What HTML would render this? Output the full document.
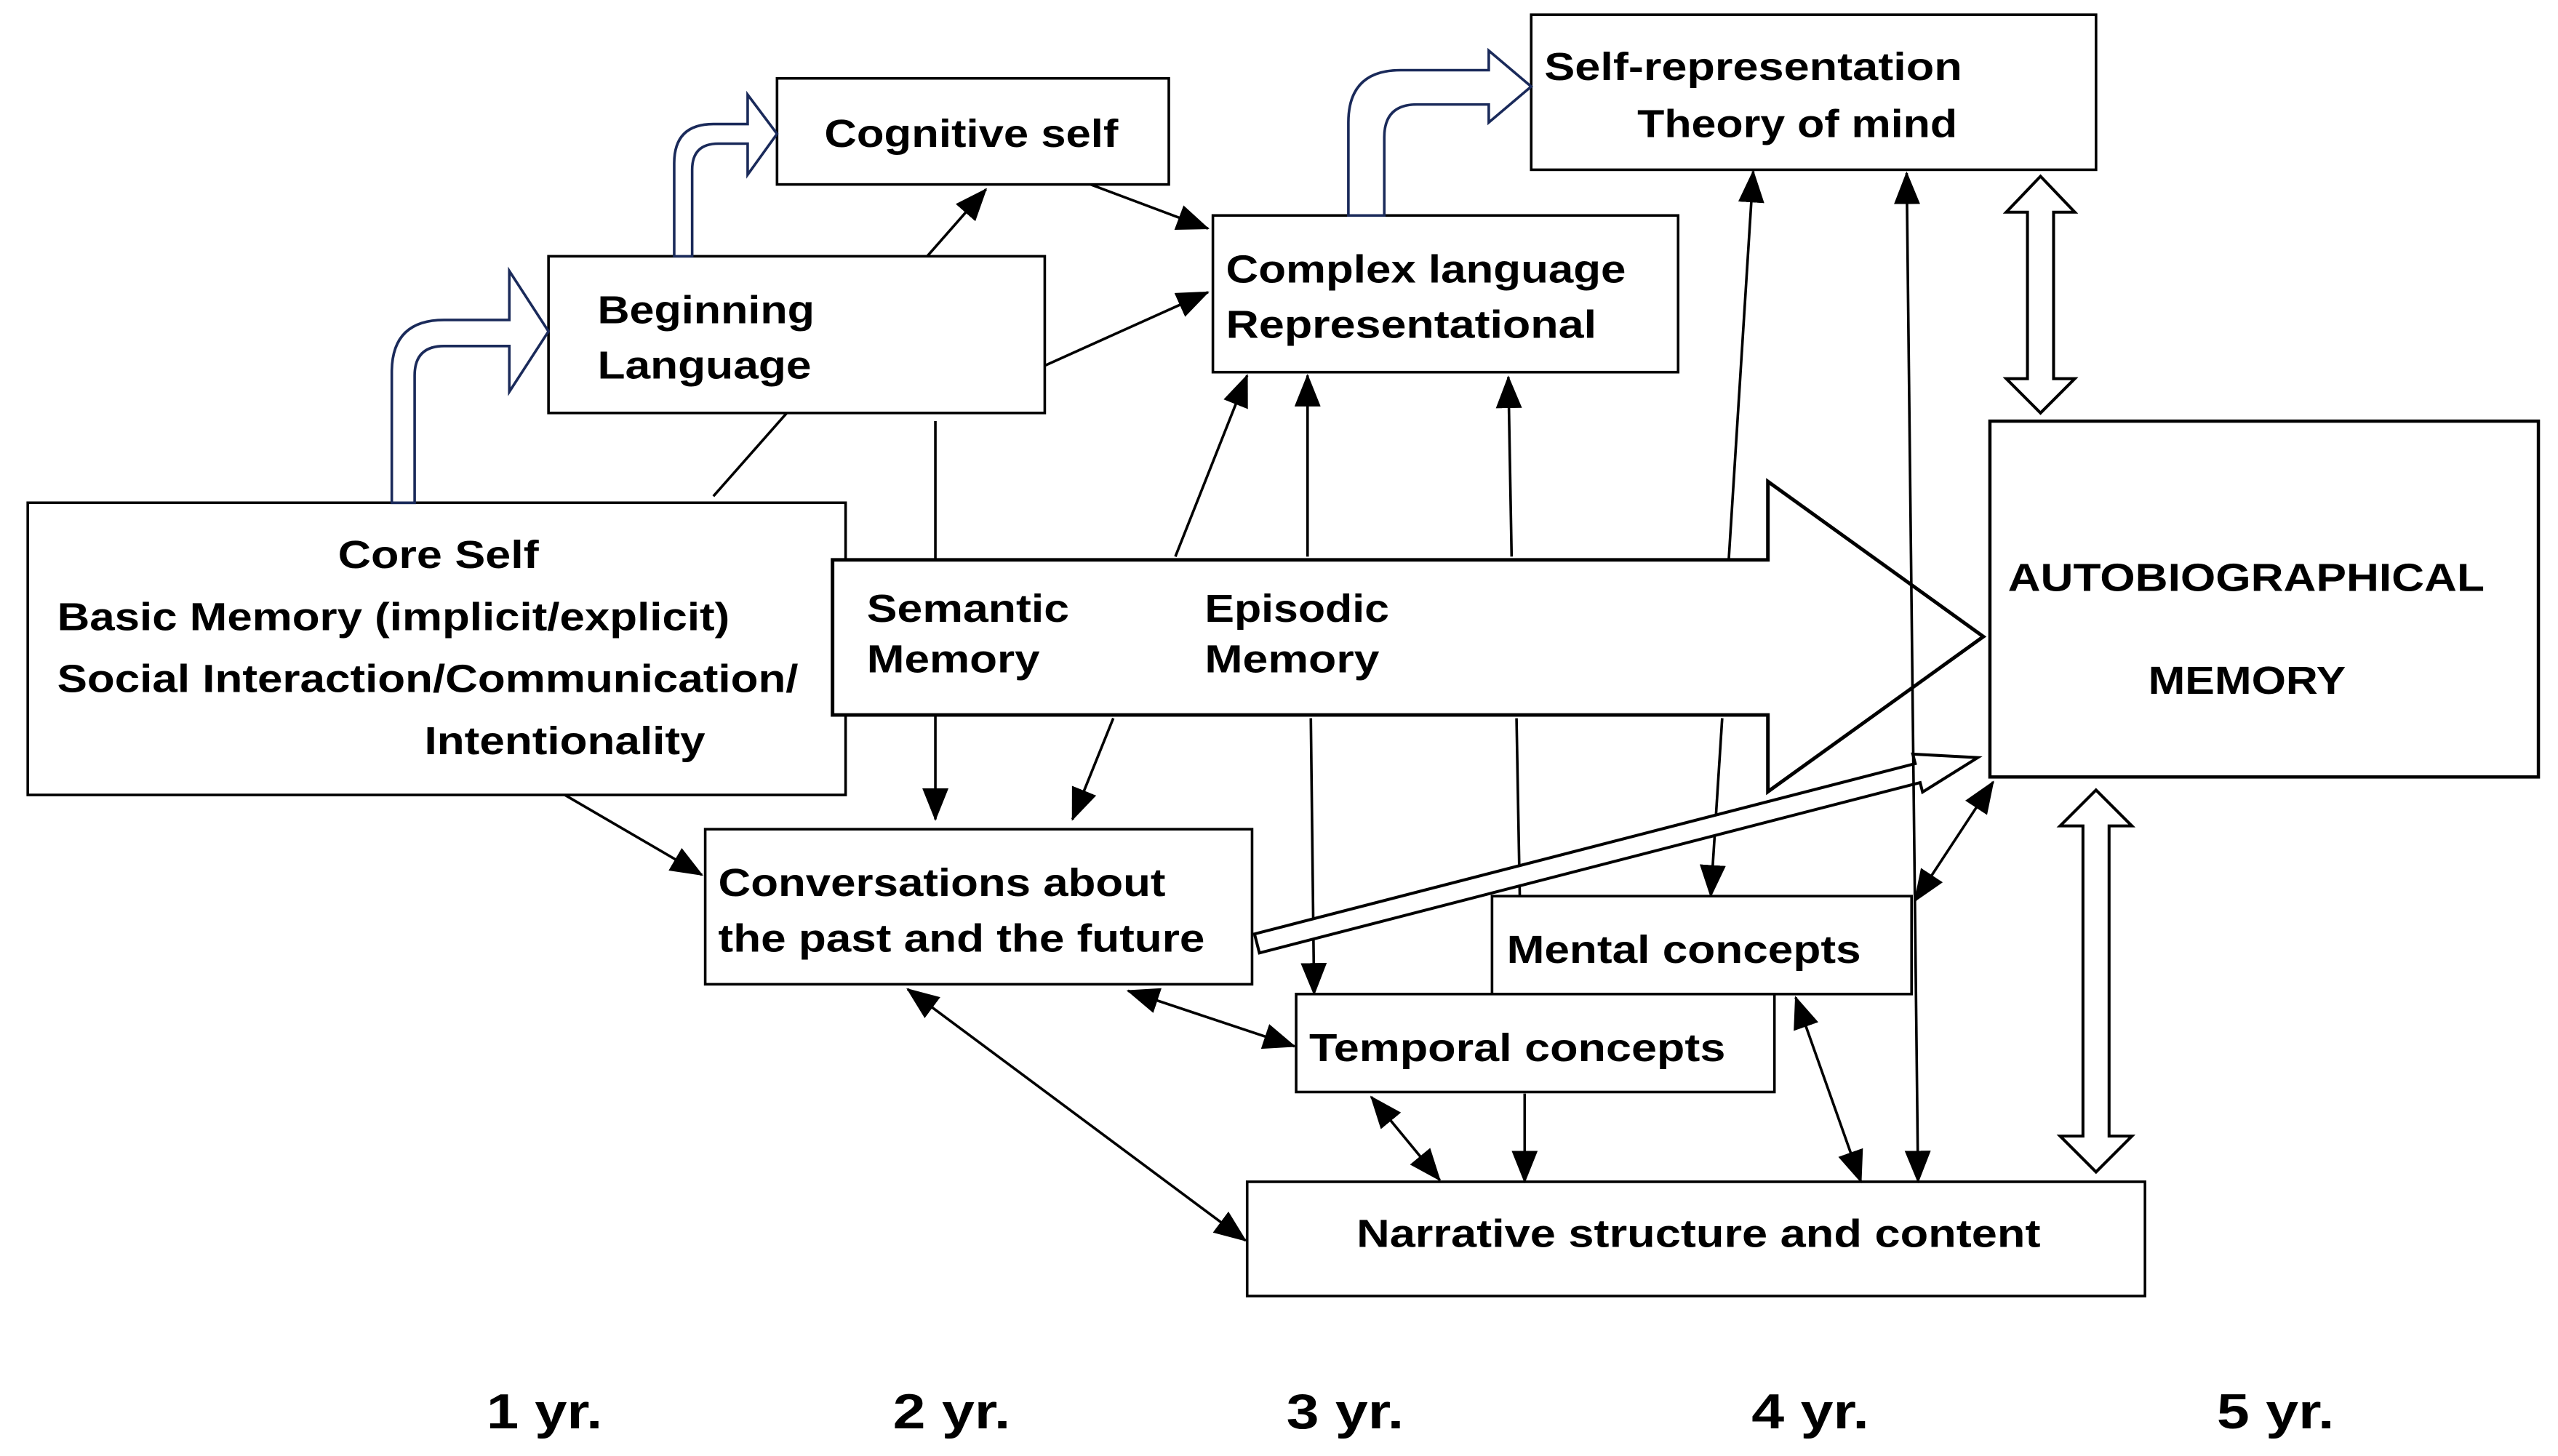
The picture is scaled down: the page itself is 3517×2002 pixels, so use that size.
<!DOCTYPE html>
<html><head><meta charset="utf-8">
<style>
html,body{margin:0;padding:0;background:#fff;}
svg{display:block;}
text{font-family:"Liberation Sans",Arial,sans-serif;font-weight:bold;fill:#000;}
</style></head>
<body>
<svg width="3517" height="2002" viewBox="0 0 1567 892" xmlns="http://www.w3.org/2000/svg">
<defs>
<marker id="ah" markerWidth="20" markerHeight="16" refX="19" refY="8" orient="auto-start-reverse" markerUnits="userSpaceOnUse" viewBox="0 0 20 16">
<path d="M0,0 L20,8 L0,16 z" fill="#000"/>
</marker>
</defs>
<rect width="1567" height="892" fill="#fff"/>
<g stroke="#000" stroke-width="1.6" fill="none">
<line x1="568" y1="157" x2="604" y2="116" marker-end="url(#ah)"/>
<line x1="668" y1="113" x2="740" y2="140" marker-end="url(#ah)"/>
<line x1="640" y1="224" x2="740" y2="179" marker-end="url(#ah)"/>
<line x1="437" y1="304" x2="482" y2="253"/>
<line x1="573" y1="258" x2="573" y2="345"/>
<line x1="720" y1="341" x2="764" y2="230" marker-end="url(#ah)"/>
<line x1="801" y1="341" x2="801" y2="230" marker-end="url(#ah)"/>
<line x1="926" y1="341" x2="924" y2="231" marker-end="url(#ah)"/>
<line x1="1059" y1="343" x2="1074" y2="105" marker-end="url(#ah)"/>
<line x1="573" y1="438" x2="573" y2="502" marker-end="url(#ah)"/>
<line x1="682" y1="440" x2="657" y2="502" marker-end="url(#ah)"/>
<line x1="803" y1="440" x2="805" y2="609" marker-end="url(#ah)"/>
<line x1="929" y1="440" x2="931" y2="549"/>
<line x1="1055" y1="440" x2="1048" y2="549" marker-end="url(#ah)"/>
</g>
<g stroke="#000" stroke-width="1.6" fill="#fff">
<rect x="476" y="48" width="240" height="65"/>
<rect x="336" y="157" width="304" height="96"/>
<rect x="938" y="9" width="346" height="95"/>
<rect x="743" y="132" width="285" height="96"/>
<rect x="17" y="308" width="501" height="179"/>
<rect x="1219" y="258" width="336" height="218" stroke-width="2"/>
<rect x="432" y="508" width="335" height="95"/>
<rect x="914" y="549" width="257" height="60"/>
<rect x="794" y="609" width="293" height="60"/>
<rect x="764" y="724" width="550" height="70"/>
</g>
<path d="M510,343 L1083,343 L1083,295 L1215,390 L1083,485 L1083,438 L510,438 Z" fill="#fff" stroke="#000" stroke-width="2.2"/>
<g fill="#fff" stroke="#1a2a5a" stroke-width="1.6">
<path d="M240,308 L240,228 Q240,196 272,196 L312,196 L312,166 L336,203 L312,240 L312,212 L272,212 Q254,212 254,230 L254,308 Z"/>
<path d="M413,157 L413,100 Q413,76 437,76 L458,76 L458,58 L476,82 L458,107 L458,88 L440,88 Q424,88 424,104 L424,157 Z"/>
<path d="M826,132 L826,75 Q826,43 858,43 L912,43 L912,31 L938,53 L912,75 L912,64 L868,64 Q848,64 848,84 L848,132 Z"/>
</g>
<g fill="#fff" stroke="#000" stroke-width="1.8">
<path d="M1250,108 L1271,130 L1258,130 L1258,232 L1271,232 L1250,253 L1229,232 L1242,232 L1242,130 L1229,130 Z"/>
<path d="M1284,484 L1306,506 L1292,506 L1292,696 L1306,696 L1284,718 L1262,696 L1276,696 L1276,506 L1262,506 Z"/>
<g transform="translate(770,578) rotate(-14.46)">
<path d="M0,-6 L418,-6 L418,-12 L456,0 L418,12 L418,6 L0,6 Z"/>
</g>
</g>
<g stroke="#000" stroke-width="1.6" fill="none">
<line x1="1168" y1="106" x2="1175" y2="724" marker-start="url(#ah)" marker-end="url(#ah)"/>
<line x1="346" y1="487" x2="430" y2="536" marker-end="url(#ah)"/>
<line x1="1173" y1="552" x2="1221" y2="479" marker-start="url(#ah)" marker-end="url(#ah)"/>
<line x1="691" y1="607" x2="793" y2="641" marker-start="url(#ah)" marker-end="url(#ah)"/>
<line x1="556" y1="606" x2="763" y2="760" marker-start="url(#ah)" marker-end="url(#ah)"/>
<line x1="840" y1="672" x2="882" y2="723" marker-start="url(#ah)" marker-end="url(#ah)"/>
<line x1="934" y1="670" x2="934" y2="724" marker-end="url(#ah)"/>
<line x1="1100" y1="611" x2="1140" y2="724" marker-start="url(#ah)" marker-end="url(#ah)"/>
</g>
<g font-size="24">
<text x="505" y="90" textLength="180" lengthAdjust="spacingAndGlyphs">Cognitive self</text>
<text x="366" y="198" textLength="133" lengthAdjust="spacingAndGlyphs">Beginning</text>
<text x="366" y="232" textLength="131" lengthAdjust="spacingAndGlyphs">Language</text>
<text x="946" y="49" textLength="256" lengthAdjust="spacingAndGlyphs">Self-representation</text>
<text x="1003" y="84" textLength="196" lengthAdjust="spacingAndGlyphs">Theory of mind</text>
<text x="751" y="173" textLength="245" lengthAdjust="spacingAndGlyphs">Complex language</text>
<text x="751" y="207" textLength="227" lengthAdjust="spacingAndGlyphs">Representational</text>
<text x="207" y="348" textLength="123" lengthAdjust="spacingAndGlyphs">Core Self</text>
<text x="35" y="386" textLength="412" lengthAdjust="spacingAndGlyphs">Basic Memory (implicit/explicit)</text>
<text x="35" y="424" textLength="454" lengthAdjust="spacingAndGlyphs">Social Interaction/Communication/</text>
<text x="260" y="462" textLength="172" lengthAdjust="spacingAndGlyphs">Intentionality</text>
<text x="531" y="381" textLength="124" lengthAdjust="spacingAndGlyphs">Semantic</text>
<text x="531" y="412" textLength="106" lengthAdjust="spacingAndGlyphs">Memory</text>
<text x="738" y="381" textLength="113" lengthAdjust="spacingAndGlyphs">Episodic</text>
<text x="738" y="412" textLength="107" lengthAdjust="spacingAndGlyphs">Memory</text>
<text x="1230" y="362" textLength="292" lengthAdjust="spacingAndGlyphs">AUTOBIOGRAPHICAL</text>
<text x="1316" y="425" textLength="121" lengthAdjust="spacingAndGlyphs">MEMORY</text>
<text x="440" y="549" textLength="274" lengthAdjust="spacingAndGlyphs">Conversations about</text>
<text x="440" y="583" textLength="298" lengthAdjust="spacingAndGlyphs">the past and the future</text>
<text x="923" y="590" textLength="217" lengthAdjust="spacingAndGlyphs">Mental concepts</text>
<text x="802" y="650" textLength="255" lengthAdjust="spacingAndGlyphs">Temporal concepts</text>
<text x="831" y="764" textLength="419" lengthAdjust="spacingAndGlyphs">Narrative structure and content</text>
</g>
<g font-size="30">
<text x="298" y="875" textLength="71" lengthAdjust="spacingAndGlyphs">1 yr.</text>
<text x="547" y="875" textLength="72" lengthAdjust="spacingAndGlyphs">2 yr.</text>
<text x="788" y="875" textLength="72" lengthAdjust="spacingAndGlyphs">3 yr.</text>
<text x="1073" y="875" textLength="72" lengthAdjust="spacingAndGlyphs">4 yr.</text>
<text x="1358" y="875" textLength="72" lengthAdjust="spacingAndGlyphs">5 yr.</text>
</g>
</svg>
</body></html>
